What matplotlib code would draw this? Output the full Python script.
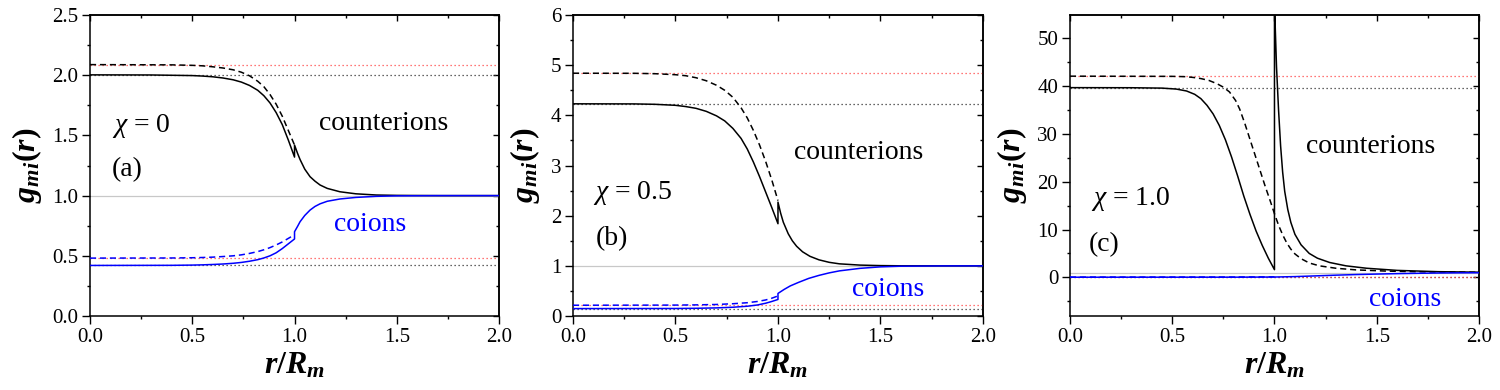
import matplotlib
matplotlib.use("Agg")
import matplotlib.pyplot as plt
from matplotlib.ticker import MultipleLocator, FormatStrFormatter

plt.rcParams["font.family"] = ["Liberation Serif", "DejaVu Serif"]
plt.rcParams["mathtext.fontset"] = "custom"
plt.rcParams["mathtext.rm"] = "Liberation Serif"
plt.rcParams["mathtext.it"] = "Liberation Serif:italic"
plt.rcParams["mathtext.bf"] = "Liberation Serif:bold"
plt.rcParams["mathtext.bfit"] = "Liberation Serif:bold:italic"

# ---------- data ----------
# panel (a), chi = 0
R_A_CNT = [0.0, 0.3, 0.5, 0.55, 0.6, 0.65, 0.7, 0.74, 0.78, 0.82, 0.85, 0.88, 0.91, 0.94, 0.97,
           1.0, 1.0, 1.015, 1.027, 1.05, 1.076, 1.1, 1.125, 1.16, 1.222, 1.3, 1.4, 1.5, 1.7, 2.0]
G_A_CNT = [2.003, 2.002, 1.997, 1.993, 1.987, 1.977, 1.962, 1.943, 1.915, 1.875, 1.83, 1.77,
           1.69, 1.59, 1.46, 1.32, 1.42, 1.35, 1.30, 1.22, 1.157, 1.12, 1.088, 1.06, 1.032,
           1.015, 1.005, 1.002, 1.0, 1.0]
R_A_CNT_TH = [0.0, 0.4, 0.5, 0.55, 0.6, 0.65, 0.7, 0.74, 0.78, 0.82, 0.85, 0.88, 0.91, 0.94,
              0.97, 1.0]
G_A_CNT_TH = [2.088, 2.086, 2.082, 2.078, 2.07, 2.06, 2.045, 2.025, 1.995, 1.95, 1.905, 1.84,
              1.76, 1.66, 1.54, 1.42]
R_A_CO = [0.0, 0.4, 0.5, 0.55, 0.6, 0.65, 0.7, 0.74, 0.78, 0.82, 0.85, 0.88, 0.91, 0.94, 0.97,
          1.0, 1.0, 1.015, 1.027, 1.05, 1.076, 1.1, 1.125, 1.16, 1.222, 1.3, 1.4, 1.5, 1.7, 2.0]
G_A_CO = [0.42, 0.421, 0.423, 0.425, 0.428, 0.432, 0.438, 0.445, 0.455, 0.468, 0.482, 0.50,
          0.525, 0.56, 0.60, 0.64, 0.70, 0.745, 0.783, 0.835, 0.88, 0.91, 0.932, 0.953, 0.972,
          0.985, 0.994, 0.998, 1.0, 1.0]
R_A_CO_TH = [0.0, 0.4, 0.5, 0.55, 0.6, 0.65, 0.7, 0.74, 0.78, 0.82, 0.85, 0.88, 0.91, 0.94,
             0.97, 1.0]
G_A_CO_TH = [0.481, 0.482, 0.484, 0.486, 0.489, 0.494, 0.50, 0.508, 0.52, 0.535, 0.55, 0.568,
             0.59, 0.615, 0.645, 0.675]
LEVELS_A = [2.0, 2.088, 0.42, 0.481]   # black, red, black, red

# panel (b), chi = 0.5
R_B_CNT = [0.0, 0.3, 0.4, 0.5, 0.55, 0.6, 0.65, 0.7, 0.74, 0.78, 0.82, 0.85, 0.88, 0.91, 0.94,
           0.97, 1.0, 1.0, 1.013, 1.026, 1.05, 1.07, 1.091, 1.12, 1.156, 1.2, 1.25, 1.3, 1.4,
           1.5, 1.6, 2.0]
G_B_CNT = [4.23, 4.228, 4.22, 4.20, 4.175, 4.14, 4.08, 3.99, 3.89, 3.74, 3.54, 3.33, 3.07,
           2.78, 2.47, 2.16, 1.84, 2.27, 2.05, 1.87, 1.64, 1.50, 1.39, 1.28, 1.19, 1.12, 1.07,
           1.04, 1.015, 1.005, 1.001, 1.0]
R_B_CNT_TH = [0.0, 0.3, 0.4, 0.5, 0.55, 0.6, 0.65, 0.7, 0.74, 0.78, 0.82, 0.85, 0.88, 0.91,
              0.94, 0.97, 1.0]
G_B_CNT_TH = [4.84, 4.838, 4.83, 4.81, 4.79, 4.75, 4.69, 4.60, 4.50, 4.36, 4.15, 3.95, 3.70,
              3.41, 3.08, 2.71, 2.30]
R_B_CO = [0.0, 0.5, 0.6, 0.7, 0.78, 0.85, 0.9, 0.94, 0.97, 1.0, 1.0, 1.03, 1.06, 1.1, 1.15,
          1.2, 1.25, 1.3, 1.4, 1.5, 1.6, 1.8, 2.0]
G_B_CO = [0.148, 0.15, 0.154, 0.162, 0.175, 0.195, 0.22, 0.255, 0.29, 0.33, 0.45, 0.53, 0.60,
          0.67, 0.75, 0.81, 0.86, 0.90, 0.95, 0.98, 0.993, 0.999, 1.0]
R_B_CO_TH = [0.0, 0.5, 0.6, 0.7, 0.78, 0.85, 0.9, 0.94, 0.97, 1.0]
G_B_CO_TH = [0.215, 0.218, 0.222, 0.23, 0.245, 0.265, 0.29, 0.32, 0.355, 0.40]
LEVELS_B = [4.23, 4.84, 0.148, 0.215]

# panel (c), chi = 1.0
R_C_CNT = [0.0, 0.3, 0.45, 0.52, 0.57, 0.61, 0.64, 0.67, 0.7, 0.73, 0.76, 0.79, 0.82, 0.85,
           0.88, 0.91, 0.94, 0.97, 1.0, 1.0, 1.004, 1.01, 1.02, 1.03, 1.04, 1.05, 1.065, 1.08,
           1.1, 1.13, 1.17, 1.21, 1.27, 1.35, 1.45, 1.6, 1.8, 2.0]
G_C_CNT = [39.7, 39.68, 39.6, 39.4, 39.0, 38.3, 37.4, 36.0, 34.2, 31.8, 28.8, 25.2, 21.2,
           17.0, 13.2, 9.7, 6.7, 4.0, 1.6, 58.0, 52.0, 44.0, 35.0, 27.5, 22.0, 18.0, 14.2,
           11.5, 9.0, 6.8, 5.0, 4.0, 3.1, 2.4, 1.9, 1.45, 1.18, 1.07]
R_C_CNT_TH = [0.0, 0.5, 0.56, 0.6, 0.64, 0.68, 0.72, 0.75, 0.78, 0.81, 0.83, 0.855, 0.88,
              0.905, 0.93, 0.955, 0.98, 1.0, 1.02, 1.04, 1.06, 1.08, 1.1, 1.13, 1.17, 1.22,
              1.3, 1.4, 1.55, 1.75, 2.0]
G_C_CNT_TH = [42.1, 42.06, 42.0, 41.85, 41.6, 41.2, 40.5, 39.8, 38.8, 37.0, 35.2, 32.2, 28.9,
              25.6, 22.3, 19.0, 15.9, 13.3, 10.9, 8.9, 7.2, 5.9, 4.9, 3.9, 3.0, 2.4, 1.9,
              1.55, 1.3, 1.13, 1.05]
R_C_CO = [0.0, 0.8, 1.0, 1.1, 1.2, 1.3, 1.4, 1.5, 1.6, 1.7, 1.8, 1.9, 2.0]
G_C_CO = [0.02, 0.03, 0.06, 0.15, 0.3, 0.45, 0.58, 0.68, 0.77, 0.84, 0.9, 0.94, 0.96]
R_C_CO_TH = [0.0, 0.8, 1.0]
G_C_CO_TH = [0.05, 0.06, 0.1]
LEVELS_C = [39.7, 42.1, 0.02, 0.05]

CHI_LABELS = [r"$\chi$ = 0", r"$\chi$ = 0.5", r"$\chi$ = 1.0"]
PANEL_LABELS = ["(a)", "(b)", "(c)"]

BLUE = "#0000ff"
RED_DOT = "#ff4a4a"
BLACK_DOT = "#333333"
GRAY = "#c8c8c8"
SERIF = "Liberation Serif"


def mirror_ticks(ax, xmaj, xmin, ymaj, ymin):
    # left/bottom ticks point out, top/right ticks point in
    top = ax.secondary_xaxis("top")
    top.xaxis.set_major_locator(MultipleLocator(xmaj))
    top.xaxis.set_minor_locator(MultipleLocator(xmin))
    right = ax.secondary_yaxis("right")
    right.yaxis.set_major_locator(MultipleLocator(ymaj))
    right.yaxis.set_minor_locator(MultipleLocator(ymin))
    for sec in (top, right):
        sec.tick_params(which="both", direction="in", width=1.0,
                        labeltop=False, labelright=False)
        sec.tick_params(which="major", length=4.5)
        sec.tick_params(which="minor", length=2.2)
        for sp in sec.spines.values():
            sp.set_linewidth(1.1)


def panel(ax, cnt, cnt_th, co, co_th, levels, ylim, ymaj, ymin, yfmt,
          chi, lab, pos):
    for i, lv in enumerate(levels):
        ax.axhline(lv, color=BLACK_DOT if i % 2 == 0 else RED_DOT, lw=0.9,
                   dashes=(1, 2.2), zorder=1)
    ax.axhline(1.0, color=GRAY, lw=0.9, zorder=1)

    ax.plot(*cnt_th, color="black", lw=1.1, dashes=(4, 2.5), zorder=3)
    ax.plot(*cnt, color="black", lw=1.1, zorder=4)
    ax.plot(*co_th, color=BLUE, lw=1.1, dashes=(4, 2.5), zorder=3)
    ax.plot(*co, color=BLUE, lw=1.1, zorder=4)

    ax.set_xlim(0, 2.0)
    ax.set_ylim(*ylim)
    ax.xaxis.set_major_locator(MultipleLocator(0.5))
    ax.xaxis.set_minor_locator(MultipleLocator(0.25))
    ax.yaxis.set_major_locator(MultipleLocator(ymaj))
    ax.yaxis.set_minor_locator(MultipleLocator(ymin))
    ax.xaxis.set_major_formatter(FormatStrFormatter("%.1f"))
    ax.yaxis.set_major_formatter(FormatStrFormatter(yfmt))
    ax.tick_params(which="both", direction="out", width=1.0, labelsize=15, pad=3,
                   labelfontfamily=SERIF)
    ax.tick_params(which="major", length=5.5)
    ax.tick_params(which="minor", length=2.5)
    for sp in ax.spines.values():
        sp.set_linewidth(1.1)
    mirror_ticks(ax, 0.5, 0.25, ymaj, ymin)

    ax.set_xlabel(r"$\mathbfit{r}\mathbf{/}\mathbfit{R}_{\mathbfit{m}}$", fontsize=23, labelpad=3)
    ax.set_ylabel(r"$\mathbfit{g}_{\mathbfit{mi}}\mathbf{(}\mathbfit{r}\mathbf{)}$",
                  fontsize=23, labelpad=6)

    ax.text(pos[0][0], pos[0][1], chi, fontsize=20)
    ax.text(pos[1][0], pos[1][1], lab, fontsize=20)
    ax.text(pos[2][0], pos[2][1], "counterions", fontsize=20)
    ax.text(pos[3][0], pos[3][1], "coions", fontsize=20, color=BLUE)


fig = plt.figure(figsize=(15, 3.9), dpi=100)
ax_a = fig.add_axes([0.060, 0.1897, 0.2727, 0.7718])
ax_b = fig.add_axes([0.382, 0.1897, 0.2733, 0.7718])
ax_c = fig.add_axes([0.7133, 0.1897, 0.2727, 0.7718])

panel(ax_a, (R_A_CNT, G_A_CNT), (R_A_CNT_TH, G_A_CNT_TH), (R_A_CO, G_A_CO),
      (R_A_CO_TH, G_A_CO_TH), LEVELS_A, (0, 2.5), 0.5, 0.25, "%.1f",
      CHI_LABELS[0], PANEL_LABELS[0],
      [(0.106, 1.53), (0.106, 1.16), (1.12, 1.543), (1.195, 0.705)])
panel(ax_b, (R_B_CNT, G_B_CNT), (R_B_CNT_TH, G_B_CNT_TH), (R_B_CO, G_B_CO),
      (R_B_CO_TH, G_B_CO_TH), LEVELS_B, (0, 6), 1, 0.5, "%d",
      CHI_LABELS[1], PANEL_LABELS[1],
      [(0.098, 2.34), (0.109, 1.41), (1.08, 3.12), (1.363, 0.40)])
panel(ax_c, (R_C_CNT, G_C_CNT), (R_C_CNT_TH, G_C_CNT_TH), (R_C_CO, G_C_CO),
      (R_C_CO_TH, G_C_CO_TH), LEVELS_C, (-8.1, 54.9), 10, 5, "%d",
      CHI_LABELS[2], PANEL_LABELS[2],
      [(0.101, 15.1), (0.09, 5.4), (1.152, 26.1), (1.462, -6.1)])

fig.savefig("out.png", dpi=100)
